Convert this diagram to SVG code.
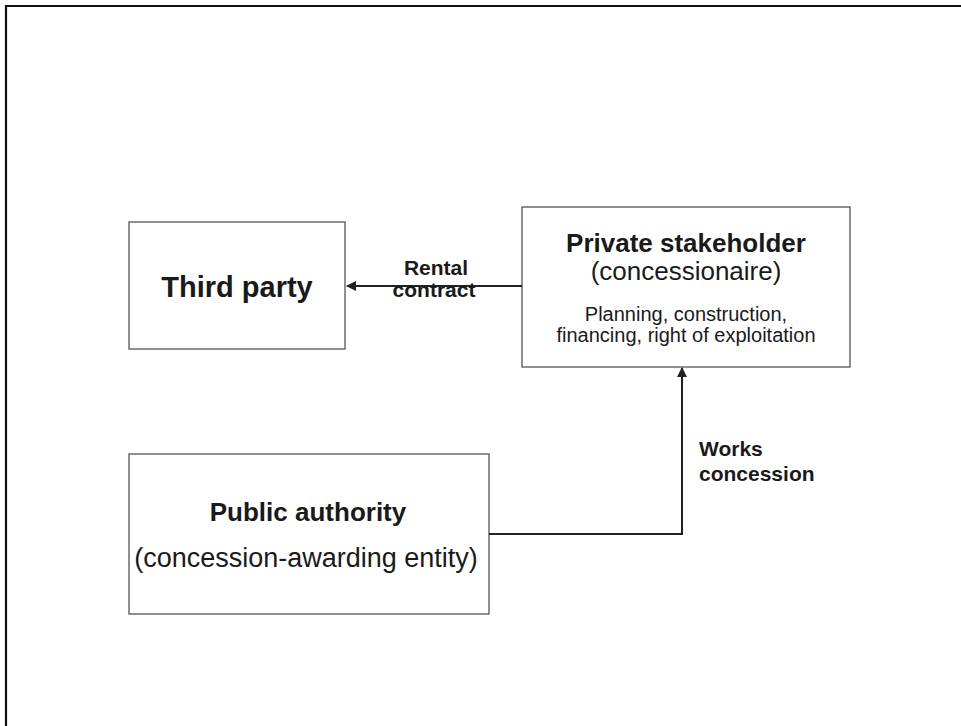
<svg xmlns="http://www.w3.org/2000/svg" width="961" height="726" viewBox="0 0 961 726">
  <style>
    .box { fill: #ffffff; stroke: #555555; stroke-width: 1.3; }
    .frame { fill: none; stroke: #111111; stroke-width: 2.2; }
    .wire { fill: none; stroke: #222222; stroke-width: 2; }
    text { font-family: "Liberation Sans", Arial, sans-serif; fill: #1a1a1a; text-anchor: middle; }
    .b { font-weight: bold; }
  </style>
  <defs>
    <marker id="head" viewBox="0 0 10 10" refX="9" refY="5" markerWidth="5" markerHeight="5" orient="auto">
      <path d="M0,0 L10,5 L0,10 z" fill="#222222"/>
    </marker>
  </defs>

  <!-- page frame -->
  <path class="frame" d="M6,726 V6 H961"/>

  <g id="third-party">
    <rect class="box" x="129" y="222" width="216" height="127"/>
    <text class="b" x="237" y="297" font-size="29">Third party</text>
  </g>

  <g id="private-stakeholder">
    <rect class="box" x="522" y="207" width="328" height="160"/>
    <text class="b" x="686" y="252" font-size="26">Private stakeholder</text>
    <text x="686" y="280" font-size="26">(concessionaire)</text>
    <text x="686" y="321" font-size="20">Planning, construction,</text>
    <text x="686" y="342" font-size="20">financing, right of exploitation</text>
  </g>

  <g id="public-authority">
    <rect class="box" x="129" y="454" width="360" height="160"/>
    <text class="b" x="308" y="521" font-size="26">Public authority</text>
    <text x="306" y="567" font-size="27">(concession-awarding entity)</text>
  </g>

  <g id="connectors">
    <path class="wire" d="M522,286 H347" marker-end="url(#head)"/>
    <path class="wire" d="M489,534 H682 V368" marker-end="url(#head)"/>
    <text class="b" x="436" y="275" font-size="21">Rental</text>
    <text class="b" x="434" y="297" font-size="21">contract</text>
    <text class="b" x="699" y="456" font-size="21" style="text-anchor:start">Works</text>
    <text class="b" x="699" y="481" font-size="21" style="text-anchor:start">concession</text>
  </g>
</svg>
